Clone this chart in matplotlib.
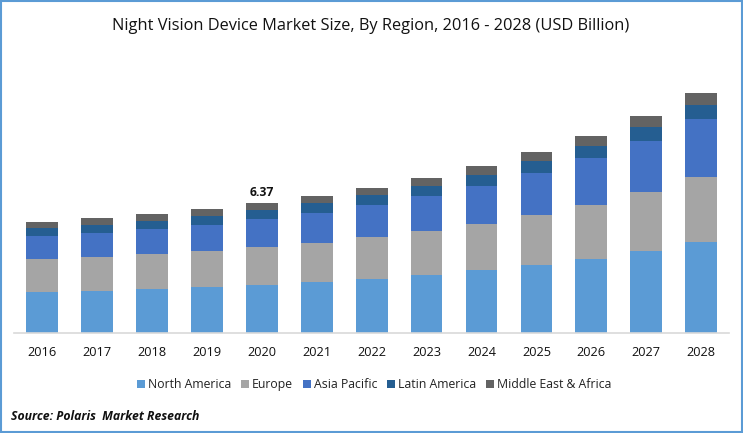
import matplotlib.pyplot as plt
from matplotlib.patches import Rectangle

years = ['2016', '2017', '2018', '2019', '2020', '2021', '2022', '2023', '2024', '2025', '2026', '2027', '2028']
north_america = [2.01, 2.06, 2.16, 2.25, 2.35, 2.50, 2.65, 2.84, 3.09, 3.33, 3.63, 4.02, 4.46]
europe = [1.62, 1.67, 1.72, 1.76, 1.86, 1.91, 2.06, 2.16, 2.25, 2.45, 2.65, 2.89, 3.19]
asia_pacific = [1.13, 1.18, 1.23, 1.27, 1.37, 1.47, 1.57, 1.72, 1.86, 2.06, 2.30, 2.50, 2.84]
latin_america = [0.39, 0.39, 0.39, 0.44, 0.44, 0.49, 0.49, 0.49, 0.54, 0.59, 0.59, 0.69, 0.69]
middle_east_africa = [0.29, 0.34, 0.34, 0.34, 0.35, 0.34, 0.34, 0.39, 0.44, 0.44, 0.49, 0.54, 0.59]

series = [
    ('North America', north_america, '#5B9BD5'),
    ('Europe', europe, '#A5A5A5'),
    ('Asia Pacific', asia_pacific, '#4472C4'),
    ('Latin America', latin_america, '#255E91'),
    ('Middle East & Africa', middle_east_africa, '#636363'),
]

W, H = 743, 433
plt.rcParams['font.family'] = ['Open Sans', 'DejaVu Sans']

fig = plt.figure(figsize=(W / 100, H / 100), dpi=100)
ax = fig.add_axes([14.4 / W, 1 - 333 / H, 714.4 / W, 273 / H])

# Stack the regions year by year
bottom = [0] * len(years)
for name, values, color in series:
    ax.bar(years, values, width=0.58, bottom=bottom, color=color, label=name)
    bottom = [b + v for b, v in zip(bottom, values)]

ax.set_xlim(-0.5, 12.5)
ax.set_ylim(0, 13.38)
ax.set_yticks([])
for side in ['top', 'left', 'right']:
    ax.spines[side].set_visible(False)
ax.spines['bottom'].set_color('#D9D9D9')
ax.spines['bottom'].set_linewidth(1.2)
ax.tick_params(axis='x', length=0, pad=9.5, labelsize=9.2, labelcolor='#111111')

# Only 2020 carries a total
ax.text(4, bottom[4] + 0.22, '6.37', ha='center', va='bottom', fontsize=8.7, fontweight='bold', color='#111111')

fig.text(371 / W, 1 - 25.5 / H, 'Night Vision Device Market Size, By Region, 2016 - 2028 (USD Billion)',
         ha='center', va='center', fontsize=11.76, color='#111111')

fig.legend(loc='center', bbox_to_anchor=(374 / W, 1 - 384.5 / H), ncol=5, frameon=False, fontsize=8.85,
           handlelength=0.65, handleheight=0.65, handletextpad=0.25, columnspacing=0.8,
           labelcolor='#222222', borderpad=0, borderaxespad=0)

fig.text(11 / W, 1 - 416.5 / H, 'Source: Polaris  Market Research', ha='left', va='center',
         fontsize=8.8, fontweight='bold', fontstyle='italic', color='#111111')

# Blue frame around the whole picture
fig.add_artist(Rectangle((1 / W, 1 / H), 1 - 2 / W, 1 - 2 / H, transform=fig.transFigure,
                         fill=False, edgecolor='#5B9BD5', linewidth=1.5))

fig.savefig('out.png', dpi=100)
plt.close()
